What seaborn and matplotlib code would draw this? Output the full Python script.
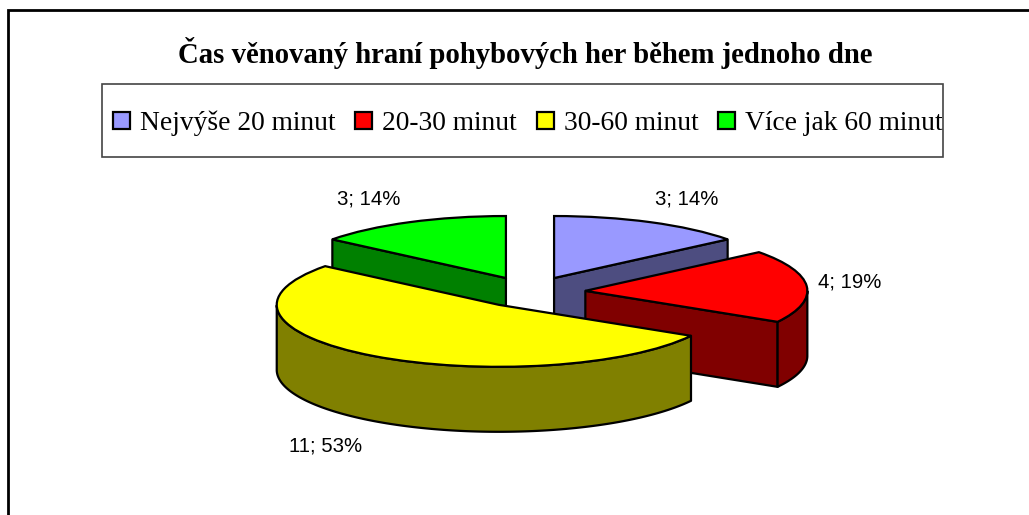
import numpy as np
import matplotlib
matplotlib.use("Agg")
import matplotlib.pyplot as plt
from matplotlib.patches import Rectangle
import seaborn as sns

title = "Čas věnovaný hraní pohybových her během jednoho dne"
categories = ["Nejvýše 20 minut", "20-30 minut", "30-60 minut", "Více jak 60 minut"]
values = [3, 4, 11, 3]
percents = [14, 19, 53, 14]
top_colors = ["#9999FF", "#FF0000", "#FFFF00", "#00FF00"]
side_colors = ["#4D4D80", "#800000", "#808000", "#008000"]

W, H = 1029, 515
# pie centre and ellipse size in pixels
cx, cy, rx, ry = 530, 292, 222, 62
depth = 65 / ry

sns.set_theme(style="white")
plt.rcParams["font.family"] = ["Liberation Serif", "DejaVu Sans"]

fig = plt.figure(figsize=(W / 100, H / 100), dpi=100, facecolor="white")
ax = fig.add_axes([0, 0, 1, 1])
wedges, _ = ax.pie(values, explode=[0.25] * 4, colors=top_colors, startangle=90, counterclock=False,
                   wedgeprops={"edgecolor": "black", "linewidth": 1.6})
ax.set_aspect("auto")
ax.set_xlim(-cx / rx, (W - cx) / rx)
ax.set_ylim((cy - H) / ry, cy / ry)

# back slices first, so the big front slice covers them
draw_order = [0, 3, 1, 2]


def wall(xs, ys, color, z):
    px = np.concatenate([xs, xs[::-1]])
    py = np.concatenate([ys, ys[::-1] - depth])
    ax.fill(px, py, facecolor=color, edgecolor="black", linewidth=1.6, joinstyle="round", zorder=z)


for z, i in enumerate(draw_order):
    w = wedges[i]
    x0, y0 = w.center
    base = 2 + z * 3
    w.set_zorder(base + 2)
    # flat cut faces that look towards the viewer
    for theta, show in [(w.theta1, np.cos(np.radians(w.theta1)) > 0.01),
                        (w.theta2, np.cos(np.radians(w.theta2)) < -0.01)]:
        if show:
            a = np.radians(theta)
            wall(np.array([x0, x0 + np.cos(a)]), np.array([y0, y0 + np.sin(a)]), side_colors[i], base)
    # outer rim, only the front half shows
    t = np.radians(np.linspace(w.theta1, w.theta2, 300))
    t = t[np.sin(t) <= 0]
    if len(t) > 1:
        wall(x0 + np.cos(t), y0 + np.sin(t), side_colors[i], base + 1)


def fx(x):
    return x / W


def fy(y):
    return 1 - y / H


# outer chart border runs off the right and bottom of the image
fig.add_artist(Rectangle((fx(8), fy(560)), fx(1100), fy(10) - fy(560), transform=fig.transFigure,
                         facecolor="none", edgecolor="black", linewidth=2))

fig.text(fx(525), fy(53), title, ha="center", va="center", fontsize=20.7, fontweight="bold", color="black")

# legend box is drawn apart, the text nearly touches its right side
fig.add_artist(Rectangle((fx(101.5), fy(157)), fx(841), fy(84) - fy(157), transform=fig.transFigure,
                         facecolor="white", edgecolor="#444444", linewidth=1.2))
fig.legend(wedges, categories, ncol=4, loc="center left", bbox_to_anchor=(fx(113), fy(123.5)),
           bbox_transform=fig.transFigure, fontsize=19.8, frameon=False, handlelength=0.62, handleheight=0.62,
           handletextpad=0.36, columnspacing=0.72, borderpad=0, borderaxespad=0, labelcolor="black")

label_pos = [(686.5, 199), (849.5, 282), (326, 446), (368.5, 199)]
for (lx, ly), v, p in zip(label_pos, values, percents):
    fig.text(fx(lx), fy(ly), f"{v}; {p}%", ha="center", va="center", fontsize=14.7,
             family="Liberation Sans", color="black")

fig.savefig("out.png", dpi=100)
